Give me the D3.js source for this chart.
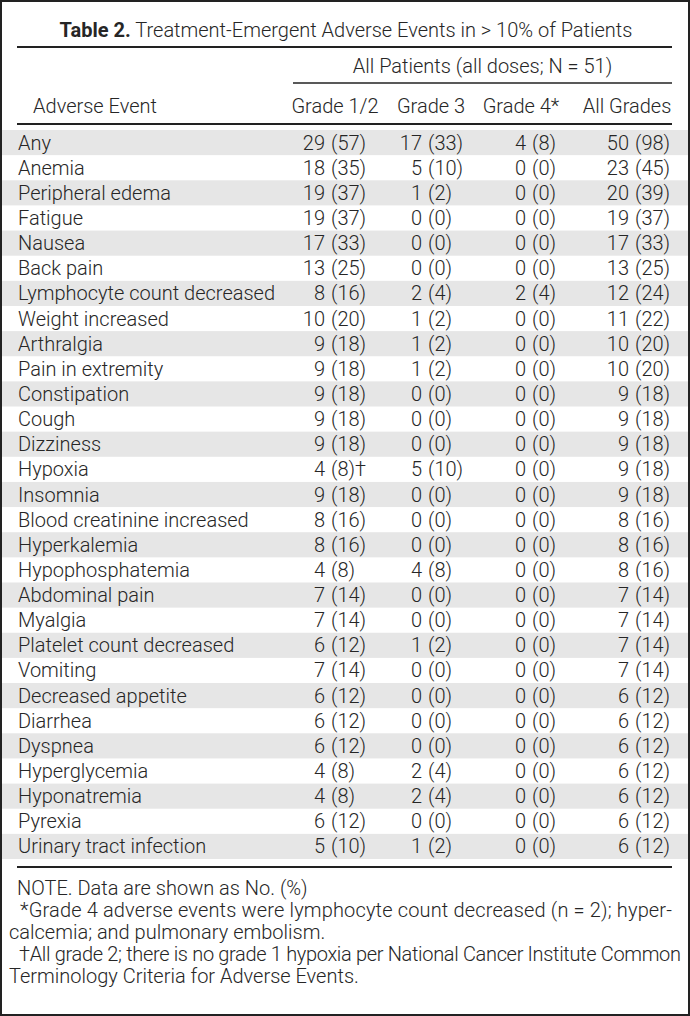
<!DOCTYPE html>
<html>
<head>
<meta charset="utf-8">
<script src="https://cdn.jsdelivr.net/npm/d3@7"></script>
<style>
  body { margin: 0; background: #fff; }
  svg text { font-family: Roboto, "Liberation Sans", sans-serif; font-weight: 300; fill: #262626; }
</style>
</head>
<body>
<svg id="table" width="690" height="1016"></svg>
<script>
var events = ["Any", "Anemia", "Peripheral edema", "Fatigue", "Nausea", "Back pain",
  "Lymphocyte count decreased", "Weight increased", "Arthralgia", "Pain in extremity",
  "Constipation", "Cough", "Dizziness", "Hypoxia", "Insomnia", "Blood creatinine increased",
  "Hyperkalemia", "Hypophosphatemia", "Abdominal pain", "Myalgia", "Platelet count decreased",
  "Vomiting", "Decreased appetite", "Diarrhea", "Dyspnea", "Hyperglycemia", "Hyponatremia",
  "Pyrexia", "Urinary tract infection"];

var columns = ["Grade 1/2", "Grade 3", "Grade 4*", "All Grades"];

var grade12N   = [29, 18, 19, 19, 17, 13, 8, 10, 9, 9, 9, 9, 9, 4, 9, 8, 8, 4, 7, 7, 6, 7, 6, 6, 6, 4, 4, 6, 5];
var grade12Pct = [57, 35, 37, 37, 33, 25, 16, 20, 18, 18, 18, 18, 18, 8, 18, 16, 16, 8, 14, 14, 12, 14, 12, 12, 12, 8, 8, 12, 10];
var grade3N    = [17, 5, 1, 0, 0, 0, 2, 1, 1, 1, 0, 0, 0, 5, 0, 0, 0, 4, 0, 0, 1, 0, 0, 0, 0, 2, 2, 0, 1];
var grade3Pct  = [33, 10, 2, 0, 0, 0, 4, 2, 2, 2, 0, 0, 0, 10, 0, 0, 0, 8, 0, 0, 2, 0, 0, 0, 0, 4, 4, 0, 2];
var grade4N    = [4, 0, 0, 0, 0, 0, 2, 0, 0, 0, 0, 0, 0, 0, 0, 0, 0, 0, 0, 0, 0, 0, 0, 0, 0, 0, 0, 0, 0];
var grade4Pct  = [8, 0, 0, 0, 0, 0, 4, 0, 0, 0, 0, 0, 0, 0, 0, 0, 0, 0, 0, 0, 0, 0, 0, 0, 0, 0, 0, 0, 0];
var allN       = [50, 23, 20, 19, 17, 13, 12, 11, 10, 10, 9, 9, 9, 9, 9, 8, 8, 8, 7, 7, 7, 7, 6, 6, 6, 6, 6, 6, 6];
var allPct     = [98, 45, 39, 37, 33, 25, 24, 22, 20, 20, 18, 18, 18, 18, 18, 16, 16, 16, 14, 14, 14, 14, 12, 12, 12, 12, 12, 12, 12];
// footnote marks on single cells: [row, column, mark]
var marks = [["Hypoxia", "Grade 1/2", "\u2020"]];

var title = "Treatment-Emergent Adverse Events in > 10% of Patients";
var groupLabel = "All Patients (all doses; N = 51)";
var notes = [
  "NOTE. Data are shown as No. (%)",
  "*Grade 4 adverse events were lymphocyte count decreased (n = 2); hyper-",
  "calcemia; and pulmonary embolism.",
  "\u2020All grade 2; there is no grade 1 hypoxia per National Cancer Institute Common",
  "Terminology Criteria for Adverse Events."
];

var svg = d3.select('#table'),
    width = +svg.attr('width'),
    height = +svg.attr('height'),
    left = 17, right = 672,
    fs = 20,
    gap = 6;

var series = [
  {n: grade12N, p: grade12Pct},
  {n: grade3N, p: grade3Pct},
  {n: grade4N, p: grade4Pct},
  {n: allN, p: allPct}
];

var y = d3.scaleBand().domain(events).range([130, 859]);
// header centers and number anchors (right edge of the count)
var colCenter = d3.scaleOrdinal().domain(columns).range([335, 431, 521, 627]);
var colAnchor = d3.scaleOrdinal().domain(columns).range([325, 422, 526, 629]);

// outer frame
svg.append('rect')
  .attr('x', 1).attr('y', 1).attr('width', width - 2).attr('height', height - 2)
  .attr('fill', 'none').attr('stroke', '#222').attr('stroke-width', 2);

// title
var t = svg.append('text')
  .attr('x', 346).attr('y', 37)
  .attr('text-anchor', 'middle')
  .style('font-size', fs + 'px');
t.append('tspan').style('font-weight', 700).text('Table 2.');
t.append('tspan').text(' ' + title);

// rules
function rule(x1, x2, yy, w) {
  svg.append('line').attr('x1', x1).attr('x2', x2).attr('y1', yy).attr('y2', yy)
    .attr('stroke', '#222').attr('stroke-width', w);
}
rule(left, right, 47, 2);
rule(293, right, 83, 1.5);
rule(left, right, 124, 2);
rule(left, right, 867, 2);

// header
svg.append('text')
  .attr('x', (293 + right) / 2).attr('y', 73)
  .attr('text-anchor', 'middle').style('font-size', fs + 'px')
  .text(groupLabel);
svg.append('text')
  .attr('x', 95).attr('y', 113)
  .attr('text-anchor', 'middle').style('font-size', fs + 'px')
  .text('Adverse Event');
svg.selectAll('.colhead')
  .data(columns)
  .enter()
  .append('text')
  .attr('class', 'colhead')
  .attr('x', d => colCenter(d)).attr('y', 113)
  .attr('text-anchor', 'middle').style('font-size', fs + 'px')
  .text(d => d);

// striped rows
svg.selectAll('.band')
  .data(events.filter((d, i) => i % 2 === 0))
  .enter()
  .append('rect')
  .attr('class', 'band')
  .attr('x', 2).attr('width', width - 4)
  .attr('y', d => y(d)).attr('height', y.bandwidth())
  .attr('fill', '#e6e6e6');

var rows = svg.selectAll('.row')
  .data(events)
  .enter()
  .append('g')
  .attr('class', 'row')
  .attr('transform', d => 'translate(0,' + (y(d) + y.bandwidth() / 2 + 7) + ')');

rows.append('text')
  .attr('x', 18)
  .style('font-size', fs + 'px')
  .text(d => d);

columns.forEach(function (col, c) {
  rows.append('text')
    .attr('x', colAnchor(col))
    .attr('text-anchor', 'end')
    .style('font-size', fs + 'px')
    .text((d, i) => series[c].n[i]);
  rows.append('text')
    .attr('x', colAnchor(col) + gap)
    .style('font-size', fs + 'px')
    .text(function (d, i) {
      var m = marks.find(k => k[0] === d && k[1] === col);
      return '(' + series[c].p[i] + ')' + (m ? m[2] : '');
    });
});

// notes
var noteX = [17, 20, 9, 19, 9];
var noteFit = [null, right - 20, null, 681 - 19, null];
svg.selectAll('.note')
  .data(notes)
  .enter()
  .append('text')
  .attr('class', 'note')
  .attr('x', (d, i) => noteX[i])
  .attr('y', (d, i) => 895 + i * 22)
  .style('font-size', fs + 'px')
  .each(function (d, i) {
    if (noteFit[i]) d3.select(this).attr('textLength', noteFit[i]).attr('lengthAdjust', 'spacing');
  })
  .text(d => d);
</script>
</body>
</html>
